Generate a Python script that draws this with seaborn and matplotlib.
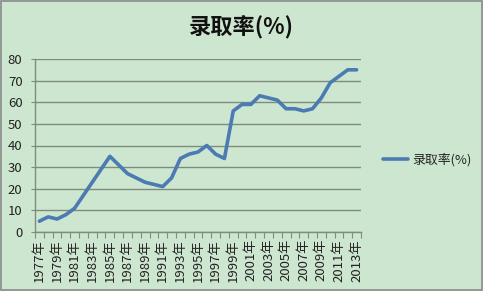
import matplotlib
matplotlib.use("Agg")
import matplotlib.pyplot as plt
import seaborn as sns
import pandas as pd
import numpy as np

years = [f"{y}年" for y in range(1977, 2014)]
rates = [5, 7, 6, 8, 11, 17, 23, 29, 35, 31, 27, 25, 23, 22, 21, 25, 34, 36, 37, 40,
         36, 34, 56, 59, 59, 63, 62, 61, 57, 57, 56, 57, 62, 69, 72, 75, 75]
series_name = "录取率(%)"
title = "录取率(%)"
yticks = [0, 10, 20, 30, 40, 50, 60, 70, 80]

sns.set_theme(style="white")
plt.rcParams['font.family'] = ['Noto Sans CJK SC', 'DejaVu Sans']

bg = "#cde6cf"
line_c = "#4b7bb2"
grid_c = "#7d8c7d"

df = pd.DataFrame({"year": years, "rate": rates})

fig = plt.figure(figsize=(4.83, 2.91), dpi=100, facecolor=bg)
ax = fig.add_axes([35/483, 1-232/291, 326/483, (232-59)/291])
ax.set_facecolor(bg)

sns.lineplot(data=df, x="year", y="rate", ax=ax, color=line_c, linewidth=2.6,
             sort=False, label=series_name, legend=False)

ax.set_xlim(-0.5, len(years) - 0.5)
ax.set_ylim(0, 80)
ax.set_yticks(yticks)
ax.set_yticklabels([str(v) for v in yticks], fontsize=9.5, color="#222222")
ax.yaxis.grid(True, color=grid_c, linewidth=1.0)
ax.set_axisbelow(True)
ax.tick_params(axis="y", length=3, width=0.8, color=grid_c, pad=6)

ax.set_xticks(range(0, len(years), 2))
ax.set_xticklabels(years[::2], rotation=90, fontsize=9.5, color="#222222")
ax.set_xticks(np.arange(-0.5, len(years), 1), minor=True)
ax.tick_params(axis="x", which="major", length=0, pad=5)
ax.tick_params(axis="x", which="minor", length=4, width=0.8, color=grid_c, bottom=True)
ax.tick_params(axis="y", left=True)

for s in ["top", "right"]:
    ax.spines[s].set_visible(False)
for s in ["left", "bottom"]:
    ax.spines[s].set_color(grid_c)
    ax.spines[s].set_linewidth(1.0)
ax.set_xlabel("")
ax.set_ylabel("")

fig.text(241/483, 1-27/291, title, ha="center", va="center", fontsize=16,
         fontweight="bold", color="#111111")

handles, labels = ax.get_legend_handles_labels()
leg = fig.legend(handles, labels, loc="center left", bbox_to_anchor=(371/483, 1-160/291),
                 frameon=False, fontsize=9.3, handlelength=2.0, handletextpad=0.3)

border = plt.Rectangle((0.003, 0.003), 0.994, 0.994, transform=fig.transFigure,
                       fill=False, edgecolor="#8a8a8a", linewidth=1.2)
fig.patches.append(border)

fig.savefig("out.png", dpi=100, facecolor=bg)
